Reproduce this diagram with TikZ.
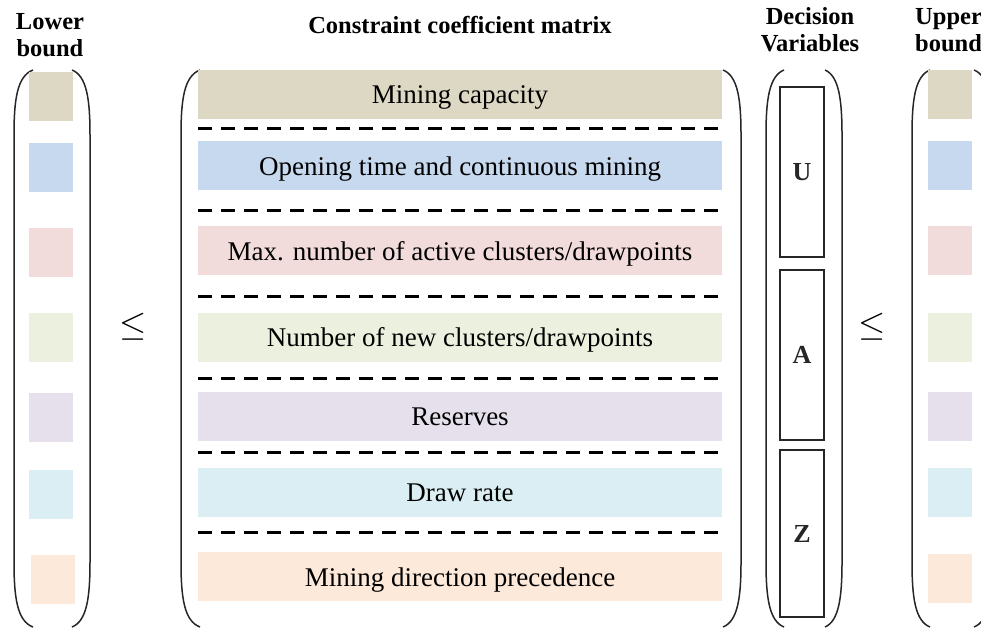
\documentclass[tikz,border=0pt]{standalone}
\usepackage{fontspec}
\usepackage{graphicx}
\setmainfont{Liberation Serif}
\definecolor{cTan}{HTML}{DDD8C3}
\definecolor{cBlue}{HTML}{C6D9EE}
\definecolor{cPink}{HTML}{F2DCDB}
\definecolor{cGreen}{HTML}{EBF1DE}
\definecolor{cPurple}{HTML}{E5E0EC}
\definecolor{cCyan}{HTML}{DAEEF3}
\definecolor{cPeach}{HTML}{FDE9D9}
\newcommand\bartext[1]{\raisebox{-3pt}[17pt][4pt]{#1}}
\begin{document}
\begin{tikzpicture}[x=1pt,y=-1pt,
  bar/.style={minimum width=524pt, minimum height=49pt, inner sep=0pt, font=\fontsize{27}{29}\selectfont},
  sbox/.style={minimum width=44pt, minimum height=49pt, inner sep=0pt},
  hdr/.style={font=\fontsize{24.5}{27}\selectfont\bfseries, align=center, inner sep=0pt},
  paren/.style={line width=1.5pt, black!85},
  sep/.style={line width=3pt, dash pattern=on 14pt off 9pt},
  var/.style={draw, line width=1.8pt, black!85, minimum width=44pt, inner sep=0pt, font=\fontsize{26}{28}\selectfont\bfseries},
  leq/.style={inner sep=0pt}]
\useasboundingbox (0,0) rectangle (981,630);

% headers
\node[hdr] (hlow) at (50,35) {Lower\\bound};
\node[hdr] (hmat) at (460,25) {Constraint coefficient matrix};
\node[hdr] (hdec) at (810,30) {Decision\\Variables};
\node[hdr, anchor=west, align=left] (hup) at (915,30) {Upper\\bound};

% parentheses: left (xs straight, xe end), right
\newcommand\lpar[2]{\draw[paren] (#2,70) .. controls (#1+3,76) and (#1,100) .. (#1,135) -- (#1,562) .. controls (#1,597) and (#1+3,621) .. (#2,627);}
\newcommand\rpar[2]{\draw[paren] (#2,70) .. controls (#1-3,76) and (#1,100) .. (#1,135) -- (#1,562) .. controls (#1,597) and (#1-3,621) .. (#2,627);}
\lpar{14}{33}
\rpar{90}{72}
\lpar{181}{200}
\rpar{741}{723}
\lpar{766}{784}
\rpar{842}{825}
\lpar{912}{930}
\rpar{992}{974}

% lower bound boxes
\node[sbox, fill=cTan] (l1) at (51,96) {};
\node[sbox, fill=cBlue] (l2) at (51,167.5) {};
\node[sbox, fill=cPink] (l3) at (51,252) {};
\node[sbox, fill=cGreen] (l4) at (51,337) {};
\node[sbox, fill=cPurple] (l5) at (51,417) {};
\node[sbox, fill=cCyan] (l6) at (51,494) {};
\node[sbox, fill=cPeach] (l7) at (53,579) {};

% upper bound boxes
\node[sbox, fill=cTan] (u1) at (950,94) {};
\node[sbox, fill=cBlue] (u2) at (950,165.5) {};
\node[sbox, fill=cPink] (u3) at (950,250.5) {};
\node[sbox, fill=cGreen] (u4) at (950,337) {};
\node[sbox, fill=cPurple] (u5) at (950,416) {};
\node[sbox, fill=cCyan] (u6) at (950,492) {};
\node[sbox, fill=cPeach] (u7) at (950,578) {};

% matrix bars
\node[bar, fill=cTan] (b1) at (460,94) {\bartext{Mining capacity}};
\node[bar, fill=cBlue] (b2) at (460,165.5) {\bartext{Opening time and continuous mining}};
\node[bar, fill=cPink] (b3) at (460,250.5) {\bartext{Max. number of active clusters/drawpoints}};
\node[bar, fill=cGreen] (b4) at (460,337) {\bartext{Number of new clusters/drawpoints}};
\node[bar, fill=cPurple] (b5) at (460,416) {\bartext{Reserves}};
\node[bar, fill=cCyan] (b6) at (460,492) {\bartext{Draw rate}};
\node[bar, fill=cPeach] (b7) at (460,576.5) {\bartext{Mining direction precedence}};

% separators
\coordinate (s1a) at (198,128); \coordinate (s1b) at (722,128);
\coordinate (s2a) at (198,210); \coordinate (s2b) at (722,210);
\coordinate (s3a) at (198,296); \coordinate (s3b) at (722,296);
\coordinate (s4a) at (198,378); \coordinate (s4b) at (722,378);
\coordinate (s5a) at (198,452); \coordinate (s5b) at (722,452);
\coordinate (s6a) at (198,532); \coordinate (s6b) at (722,532);
\foreach \i in {1,...,6} \draw[sep] (s\i a) -- (s\i b);

% decision variables
\node[var, minimum height=170pt] (U) at (802,172) {U};
\node[var, minimum height=170pt] (A) at (802,355) {A};
\node[var, minimum height=167pt] (Z) at (802,533.5) {Z};

% inequality signs
\node[leq] (le1) at (133,327) {\scalebox{3.5}{$\leq$}};
\node[leq] (le2) at (872,327) {\scalebox{3.5}{$\leq$}};
\end{tikzpicture}
\end{document}
